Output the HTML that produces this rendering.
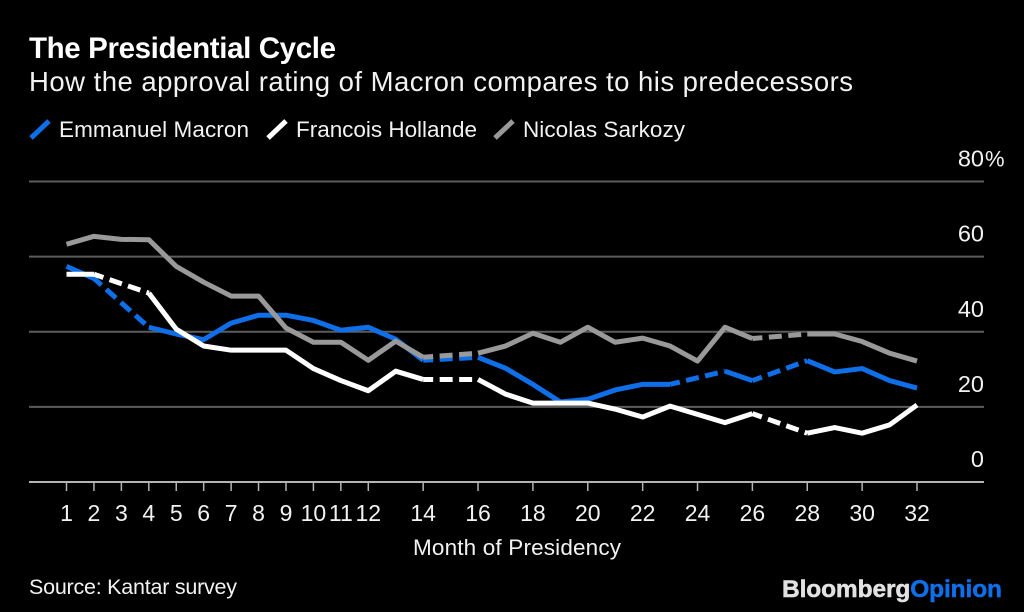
<!DOCTYPE html>
<html lang="en">
<head>
<meta charset="utf-8">
<title>The Presidential Cycle</title>
<style>
html,body{margin:0;padding:0;background:#000;width:1024px;height:612px;overflow:hidden}
svg{display:block}
text{font-family:"Liberation Sans",Arial,sans-serif;fill:#f2f2f2}
</style>
</head>
<body>
<svg id="chart" width="1024" height="612" viewBox="0 0 1024 612" xmlns="http://www.w3.org/2000/svg">
  <rect x="0" y="0" width="1024" height="612" fill="#000"/>
  <text x="29" y="58" font-size="29.5" font-weight="700" textLength="307" lengthAdjust="spacing" style="fill:#fff">The Presidential Cycle</text>
  <text x="29" y="91" font-size="27.5" textLength="824" lengthAdjust="spacing">How the approval rating of Macron compares to his predecessors</text>

  <g>
    <line x1="31" y1="138" x2="49" y2="121" stroke="#0f6fe8" stroke-width="5"/>
    <text x="59" y="137" font-size="22.5" textLength="190" lengthAdjust="spacing">Emmanuel Macron</text>
    <line x1="268" y1="138" x2="286" y2="121" stroke="#fff" stroke-width="5"/>
    <text x="296" y="137" font-size="22.5" textLength="181" lengthAdjust="spacing">Francois Hollande</text>
    <line x1="495" y1="138" x2="513" y2="121" stroke="#999" stroke-width="5"/>
    <text x="523" y="137" font-size="22.5" textLength="162" lengthAdjust="spacing">Nicolas Sarkozy</text>
  </g>

  <g id="grid"></g>
  <g id="ylabels"></g>
  <g id="series"></g>
  <g id="xaxis"></g>

  <text x="413" y="555" font-size="22.5" textLength="208" lengthAdjust="spacing">Month of Presidency</text>
  <text x="29" y="594" font-size="21.5" textLength="208" lengthAdjust="spacing">Source: Kantar survey</text>
  <text x="782" y="597" font-size="24.5" font-weight="700" textLength="220" lengthAdjust="spacing"><tspan style="fill:#e2e2e2;stroke:#e2e2e2;stroke-width:0.5">Bloomberg</tspan><tspan style="fill:#0f6fe8;stroke:#0f6fe8;stroke-width:0.5">Opinion</tspan></text>
</svg>
<script>
var months = [1,2,3,4,5,6,7,8,9,10,11,12,13,14,15,16,17,18,19,20,21,22,23,24,25,26,27,28,29,30,31,32];
var xTickLabels = [1,2,3,4,5,6,7,8,9,10,11,12,14,16,18,20,22,24,26,28,30,32];
var yTickLabels = [0,20,40,60,80];
var macron = [57.4,54.2,null,41.2,39.4,37.9,42.3,44.4,44.4,43,40.4,41.2,38,32.4,null,33.2,30.3,26,21.3,22,24.5,26,26,null,29.5,27,null,32.3,29.3,30.2,27,25];
var hollande = [55.3,55.3,null,50.3,40.7,36.2,35.1,35.1,35.1,30.2,27,24.3,29.5,27.3,null,27.3,23.4,21,21,21,19.4,17.3,20.2,18,15.8,18.2,null,13,14.5,13,15.2,20.5];
var sarkozy = [63.3,65.4,64.6,64.5,57.4,53.2,49.5,49.5,41,37.2,37.2,32.4,37.5,33.2,null,34.3,36.2,39.6,37.2,41.2,37.2,38.3,36.2,32.2,41.2,38.2,null,39.4,39.4,37.4,34.3,32.2];

var SVG_NS = 'http://www.w3.org/2000/svg';
function xScale(m){ return 66.5 + (m - 1) * (917 - 66.5) / 31; }
function yScale(v){ return 482 - v * (482 - 181.5) / 80; }
function make(tag, parent){
  var el = document.createElementNS(SVG_NS, tag);
  parent.appendChild(el);
  return el;
}

var grid = document.getElementById('grid');
var ylabels = document.getElementById('ylabels');
yTickLabels.forEach(function(v, i){
  var line = make('line', grid);
  
  
  line.setAttribute('x1', 29);
  line.setAttribute('x2', 984);
  line.setAttribute('y1', yScale(v));
  line.setAttribute('y2', yScale(v));
  line.setAttribute('stroke', v === 0 ? '#b4b4b4' : '#5c5c5c');
  line.setAttribute('stroke-width', 2);

  var t = make('text', ylabels);
  
  
  t.setAttribute('x', 984);
  t.setAttribute('y', yScale(v) - 15);
  t.setAttribute('font-size', 23.5);
  t.setAttribute('text-anchor', 'end');
  t.textContent = v;

  if (i === yTickLabels.length - 1) {
    var pct = make('text', ylabels);
    
    
    pct.setAttribute('x', 985);
    pct.setAttribute('y', yScale(v) - 15);
    pct.setAttribute('font-size', 22);
    pct.textContent = '%';
  }
});

var xaxis = document.getElementById('xaxis');
xTickLabels.forEach(function(m){
  var tick = make('line', xaxis);
  
  
  tick.setAttribute('x1', xScale(m));
  tick.setAttribute('x2', xScale(m));
  tick.setAttribute('y1', 482);
  tick.setAttribute('y2', 491);
  tick.setAttribute('stroke', '#b4b4b4');
  tick.setAttribute('stroke-width', 1.5);

  var t = make('text', xaxis);
  
  
  t.setAttribute('x', xScale(m));
  t.setAttribute('y', 521);
  t.setAttribute('font-size', 23);
  t.setAttribute('text-anchor', 'middle');
  t.textContent = m;
});

function drawSeries(name, values, color){
  var parent = document.getElementById('series');
  var solid = '';
  var dashed = '';
  var prev = null;
  var prevWasGap = false;
  values.forEach(function(v, i){
    if (v === null) { prevWasGap = true; return; }
    var pt = xScale(months[i]).toFixed(2) + ' ' + yScale(v).toFixed(2);
    if (prev === null) {
      solid += 'M' + pt;
    } else if (prevWasGap) {
      dashed += 'M' + prev + 'L' + pt;
      solid += 'M' + pt;
    } else {
      solid += 'L' + pt;
    }
    prev = pt;
    prevWasGap = false;
  });

  var s = make('path', parent);
  
  
  s.setAttribute('d', solid);
  s.setAttribute('fill', 'none');
  s.setAttribute('stroke', color);
  s.setAttribute('stroke-width', 5);
  s.setAttribute('stroke-linejoin', 'round');

  var d = make('path', parent);
  
  
  d.setAttribute('d', dashed);
  d.setAttribute('fill', 'none');
  d.setAttribute('stroke', color);
  d.setAttribute('stroke-width', 5);
  d.setAttribute('stroke-dasharray', '13 6.5');
  d.setAttribute('stroke-dashoffset', '3');
}

drawSeries('macron', macron, '#0f6fe8');
drawSeries('hollande', hollande, '#ffffff');
drawSeries('sarkozy', sarkozy, '#999999');
</script>
</body>
</html>
